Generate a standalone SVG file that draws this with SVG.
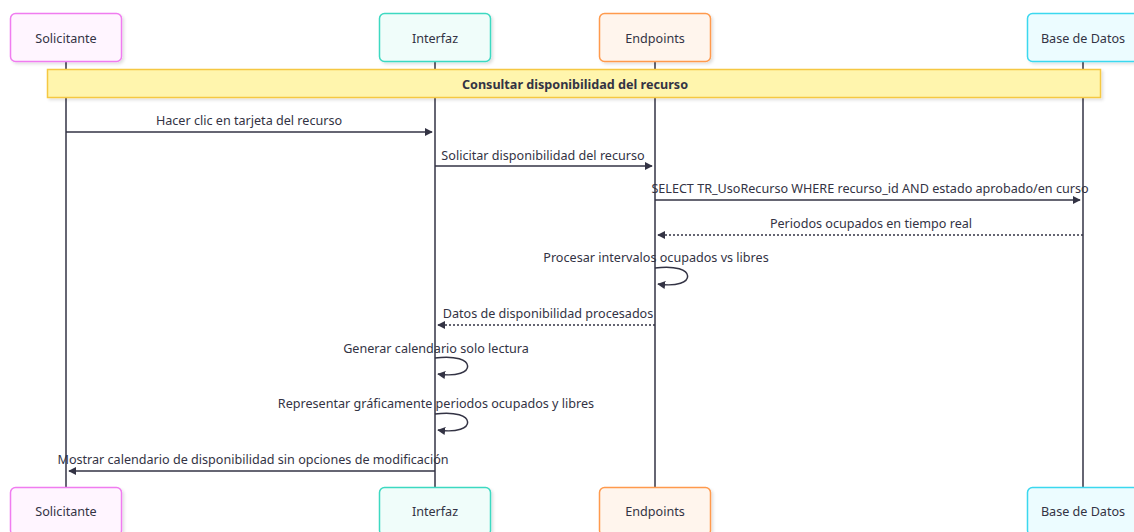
<svg xmlns="http://www.w3.org/2000/svg" width="1134" height="532" viewBox="0 0 1134 532">
<defs>
<style>
.t{font-family:"Noto Sans","Liberation Sans",sans-serif;font-size:12.6px;fill:#333344;text-anchor:middle;dominant-baseline:central}
.b{font-weight:bold}
.life{stroke:#333344;stroke-width:1.5;fill:none}
.msg{stroke:#333344;stroke-width:1.5;fill:none}
.dot{stroke:#333344;stroke-width:1.5;fill:none;stroke-dasharray:2,2}
.box{stroke-width:1.5}
</style>
<marker id="ah" viewBox="0 0 10 10" refX="9" refY="5" markerWidth="8" markerHeight="8" markerUnits="userSpaceOnUse" orient="auto-start-reverse">
<path d="M0,0 L10,5 L0,10 z" fill="#333344"/>
</marker>
<filter id="sh" x="-10%" y="-10%" width="130%" height="130%">
<feDropShadow dx="2" dy="2" stdDeviation="1.5" flood-color="#000" flood-opacity="0.12"/>
</filter>
</defs>
<rect width="1134" height="532" fill="#ffffff"/>
<g id="lifelines">
<line class="life" x1="66" y1="62" x2="66" y2="487"/>
<line class="life" x1="435" y1="62" x2="435" y2="487"/>
<line class="life" x1="655" y1="62" x2="655" y2="487"/>
<line class="life" x1="1083" y1="62" x2="1083" y2="487"/>
</g>
<g id="actor-solicitante-top"><rect class="box" x="10.5" y="13.5" width="111" height="48" rx="5" fill="#fff5ff" stroke="#f07cf0" filter="url(#sh)"/><text class="t" x="66" y="38">Solicitante</text></g>
<g id="actor-interfaz-top"><rect class="box" x="379.5" y="13.5" width="111" height="48" rx="5" fill="#f0fdfa" stroke="#3dd9c1" filter="url(#sh)"/><text class="t" x="435" y="38">Interfaz</text></g>
<g id="actor-endpoints-top"><rect class="box" x="599.5" y="13.5" width="111" height="48" rx="5" fill="#fff5ed" stroke="#ff9a4d" filter="url(#sh)"/><text class="t" x="655" y="38">Endpoints</text></g>
<g id="actor-bd-top"><rect class="box" x="1027.5" y="13.5" width="111" height="48" rx="5" fill="#ecfcff" stroke="#3ad8ef" filter="url(#sh)"/><text class="t" x="1083" y="38">Base de Datos</text></g>
<g id="note"><rect x="47.5" y="69.5" width="1053" height="28" fill="#fff5ad" stroke="#f5c842" stroke-width="1.5" filter="url(#sh)"/><text class="t b" x="575" y="84">Consultar disponibilidad del recurso</text></g>
<g id="connectors">
<text class="t" x="249" y="120">Hacer clic en tarjeta del recurso</text>
<line class="msg" x1="66" y1="132" x2="432" y2="132" marker-end="url(#ah)"/>
<text class="t" x="543" y="155">Solicitar disponibilidad del recurso</text>
<line class="msg" x1="435" y1="166" x2="652" y2="166" marker-end="url(#ah)"/>
<text class="t" x="870" y="188">SELECT TR_UsoRecurso WHERE recurso_id AND estado aprobado/en curso</text>
<line class="msg" x1="655" y1="200" x2="1080" y2="200" marker-end="url(#ah)"/>
<text class="t" x="871" y="223">Periodos ocupados en tiempo real</text>
<line class="dot" x1="1083" y1="235" x2="658" y2="235" marker-end="url(#ah)"/>
<text class="t" x="656" y="257">Procesar intervalos ocupados vs libres</text>
<path class="msg" d="M655,268 C698,262 698,290 658,284" marker-end="url(#ah)"/>
<text class="t" x="548" y="313">Datos de disponibilidad procesados</text>
<line class="dot" x1="655" y1="325" x2="438" y2="325" marker-end="url(#ah)"/>
<text class="t" x="436" y="348">Generar calendario solo lectura</text>
<path class="msg" d="M435,358 C478,352 478,380 438,374" marker-end="url(#ah)"/>
<text class="t" x="436" y="403">Representar gráficamente periodos ocupados y libres</text>
<path class="msg" d="M435,414 C478,408 478,436 438,430" marker-end="url(#ah)"/>
<text class="t" x="253" y="459">Mostrar calendario de disponibilidad sin opciones de modificación</text>
<line class="msg" x1="435" y1="471" x2="69" y2="471" marker-end="url(#ah)"/>
</g>
<g id="actor-solicitante-bottom"><rect class="box" x="10.5" y="487.5" width="111" height="48" rx="5" fill="#fff5ff" stroke="#f07cf0" filter="url(#sh)"/><text class="t" x="66" y="511">Solicitante</text></g>
<g id="actor-interfaz-bottom"><rect class="box" x="379.5" y="487.5" width="111" height="48" rx="5" fill="#f0fdfa" stroke="#3dd9c1" filter="url(#sh)"/><text class="t" x="435" y="511">Interfaz</text></g>
<g id="actor-endpoints-bottom"><rect class="box" x="599.5" y="487.5" width="111" height="48" rx="5" fill="#fff5ed" stroke="#ff9a4d" filter="url(#sh)"/><text class="t" x="655" y="511">Endpoints</text></g>
<g id="actor-bd-bottom"><rect class="box" x="1027.5" y="487.5" width="111" height="48" rx="5" fill="#ecfcff" stroke="#3ad8ef" filter="url(#sh)"/><text class="t" x="1083" y="511">Base de Datos</text></g>
</svg>
